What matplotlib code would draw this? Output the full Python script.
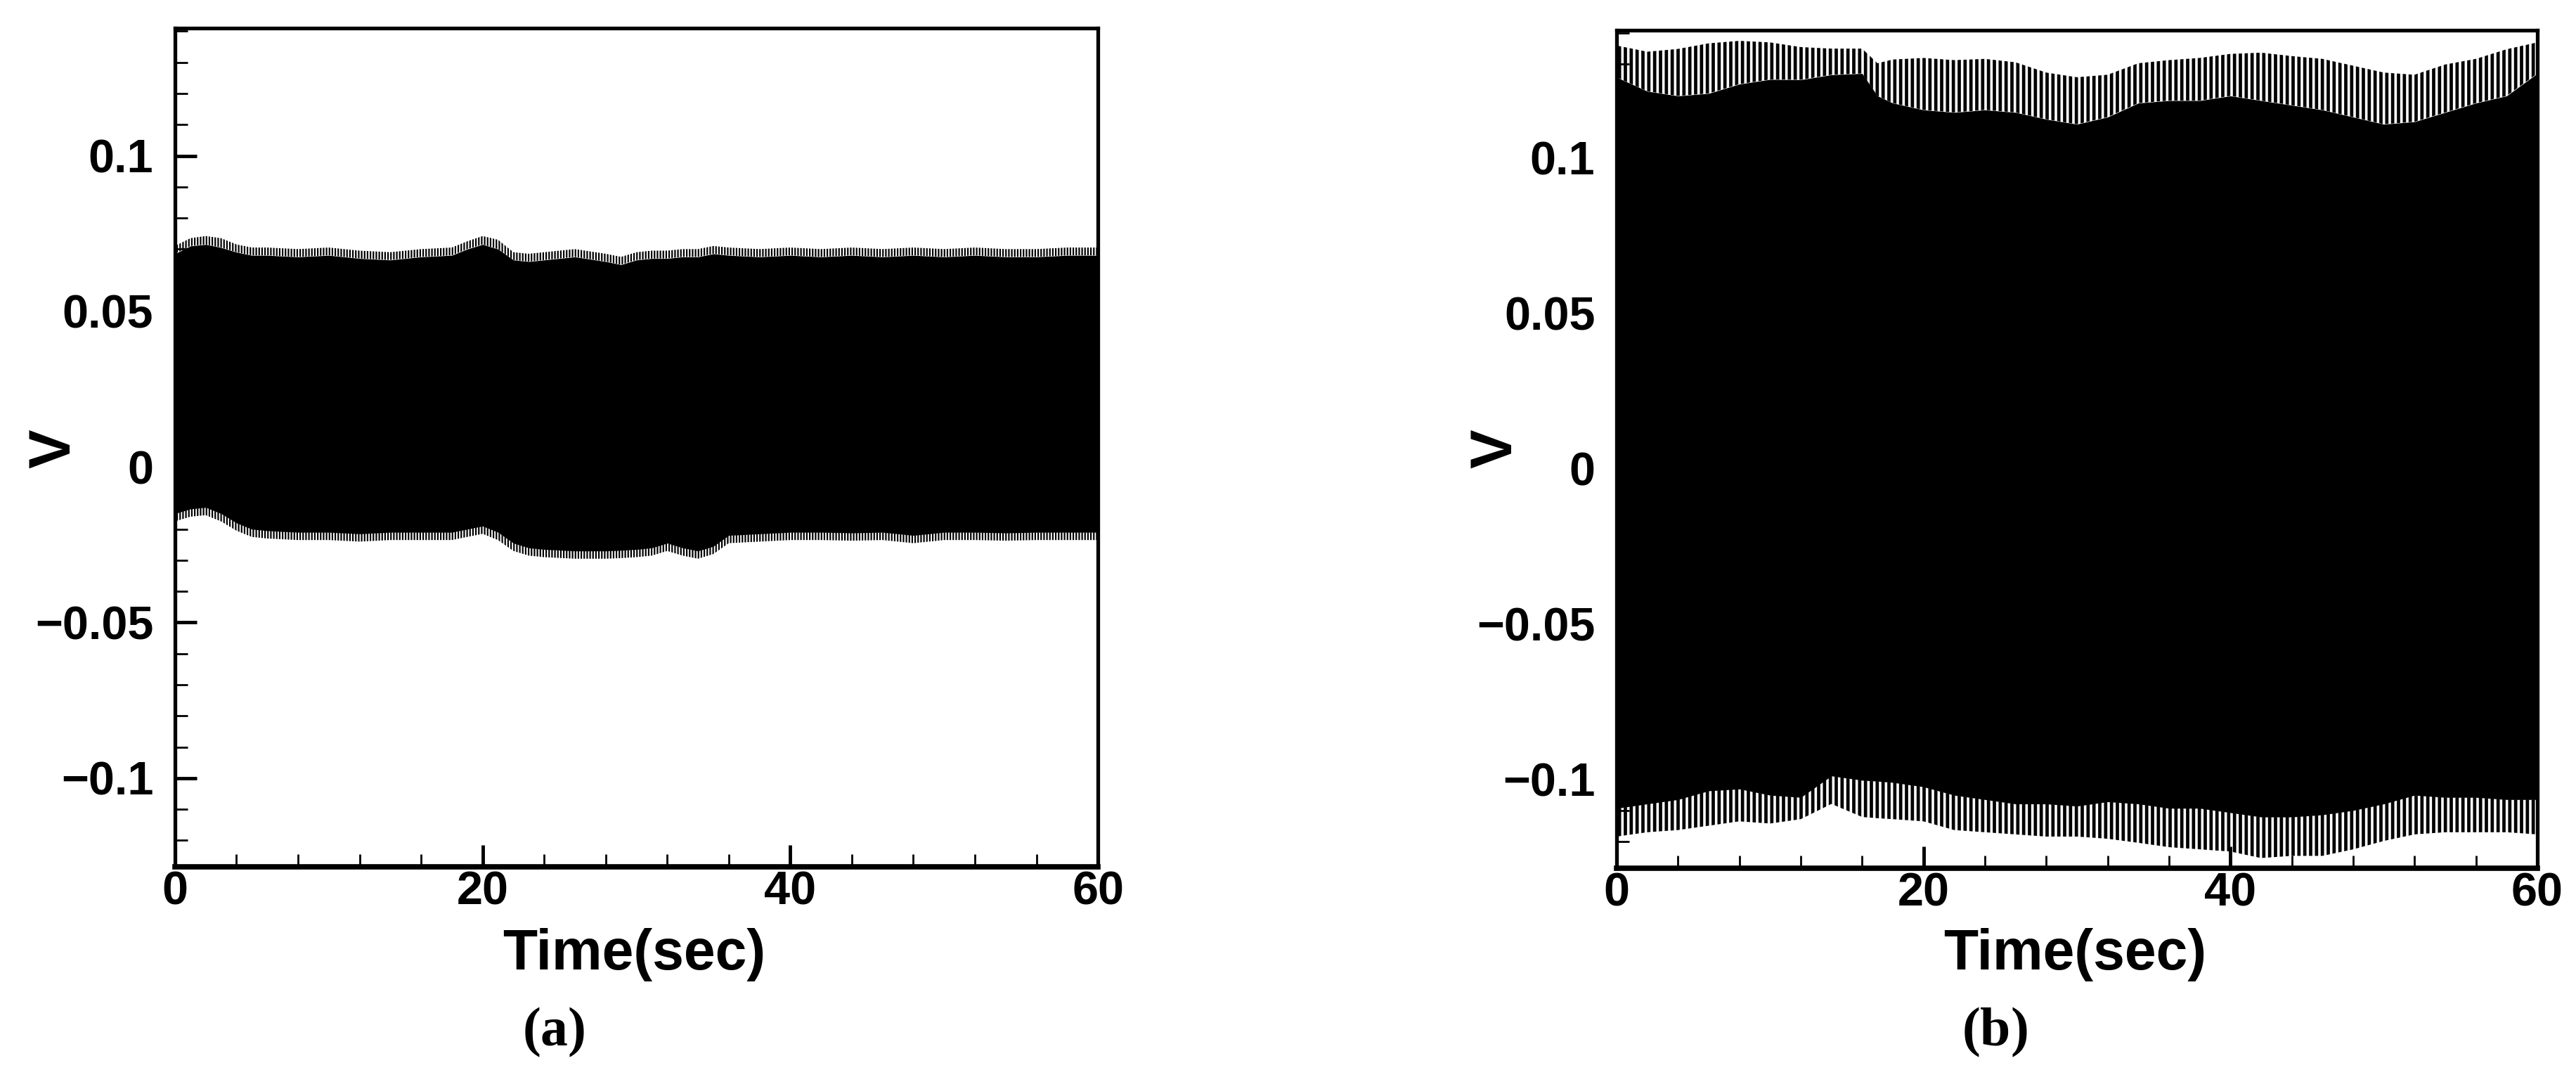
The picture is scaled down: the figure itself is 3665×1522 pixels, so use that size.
import matplotlib
matplotlib.use("Agg")
import matplotlib as mpl
import matplotlib.pyplot as plt
from matplotlib.ticker import MultipleLocator

plt.rcParams.update({
    "font.family": "Liberation Sans",
    "font.weight": "bold",
    "mathtext.fontset": "custom",
    "mathtext.rm": "Liberation Serif",
    "mathtext.bf": "Liberation Serif:bold",
})

# ── data (envelopes of the dense oscillation) ─────────────────────────────────
# (a) envelope: "in" = edge of the solid black body, "out" = tips of the fringe
time_a = [0, 1, 2, 3, 4, 5, 6, 8, 10, 12, 14, 16, 18, 19, 20, 21, 22, 23, 24,
          26, 28, 29, 30, 31, 32, 33, 34, 35, 36, 38, 40, 42, 44, 46, 48, 50,
          52, 54, 56, 58, 60]
upper_out_a = [0.0710, 0.0735, 0.0742, 0.0735, 0.0715, 0.0705, 0.0705, 0.0700,
               0.0705, 0.0695, 0.0690, 0.0700, 0.0705, 0.0725, 0.0742, 0.0730,
               0.0690, 0.0685, 0.0690, 0.0700, 0.0685, 0.0675, 0.0690, 0.0695,
               0.0695, 0.0700, 0.0700, 0.0710, 0.0705, 0.0700, 0.0705, 0.0700,
               0.0705, 0.0700, 0.0705, 0.0700, 0.0705, 0.0700, 0.0700, 0.0705,
               0.0705]
upper_in_a = [0.0685, 0.0710, 0.0715, 0.0705, 0.0690, 0.0680, 0.0680, 0.0675,
              0.0680, 0.0670, 0.0665, 0.0675, 0.0680, 0.0700, 0.0715, 0.0700,
              0.0665, 0.0660, 0.0665, 0.0675, 0.0660, 0.0650, 0.0665, 0.0670,
              0.0670, 0.0675, 0.0675, 0.0685, 0.0680, 0.0675, 0.0680, 0.0675,
              0.0680, 0.0675, 0.0680, 0.0675, 0.0680, 0.0675, 0.0675, 0.0680,
              0.0680]
lower_in_a = [-0.0150, -0.0135, -0.0130, -0.0150, -0.0180, -0.0200, -0.0205,
              -0.0210, -0.0210, -0.0215, -0.0210, -0.0210, -0.0210, -0.0200,
              -0.0190, -0.0210, -0.0245, -0.0260, -0.0265, -0.0270, -0.0270,
              -0.0268, -0.0265, -0.0260, -0.0245, -0.0260, -0.0270, -0.0255,
              -0.0220, -0.0215, -0.0210, -0.0210, -0.0212, -0.0210, -0.0220,
              -0.0210, -0.0210, -0.0212, -0.0210, -0.0210, -0.0210]
lower_out_a = [-0.0175, -0.0160, -0.0155, -0.0175, -0.0205, -0.0225, -0.0230,
               -0.0235, -0.0235, -0.0240, -0.0235, -0.0235, -0.0235, -0.0225,
               -0.0215, -0.0235, -0.0270, -0.0285, -0.0290, -0.0295, -0.0295,
               -0.0293, -0.0290, -0.0285, -0.0270, -0.0285, -0.0295, -0.0280,
               -0.0245, -0.0240, -0.0235, -0.0235, -0.0237, -0.0235, -0.0245,
               -0.0235, -0.0235, -0.0237, -0.0235, -0.0235, -0.0235]

# (b) envelope
time_b = [0, 2, 4, 6, 8, 10, 12, 14, 16, 17, 18, 20, 22, 24, 26, 28, 30, 32,
          34, 36, 38, 40, 42, 44, 46, 48, 50, 52, 54, 56, 58, 60]
upper_out_b = [0.1360, 0.1340, 0.1349, 0.1367, 0.1375, 0.1370, 0.1355, 0.1350,
               0.1350, 0.1303, 0.1315, 0.1320, 0.1313, 0.1317, 0.1306, 0.1273,
               0.1258, 0.1266, 0.1303, 0.1313, 0.1320, 0.1333, 0.1337, 0.1326,
               0.1317, 0.1295, 0.1273, 0.1266, 0.1299, 0.1317, 0.1348, 0.1370]
upper_in_b = [0.1258, 0.1213, 0.1198, 0.1206, 0.1236, 0.1251, 0.1250, 0.1266,
              0.1270, 0.1198, 0.1175, 0.1153, 0.1145, 0.1153, 0.1145, 0.1123,
              0.1107, 0.1130, 0.1175, 0.1183, 0.1183, 0.1198, 0.1183, 0.1168,
              0.1153, 0.1130, 0.1107, 0.1115, 0.1145, 0.1175, 0.1198, 0.1270]
lower_in_b = [-0.1092, -0.1078, -0.1064, -0.1036, -0.1030, -0.1050, -0.1057,
              -0.0988, -0.1002, -0.1005, -0.1009, -0.1023, -0.1050, -0.1064,
              -0.1078, -0.1078, -0.1085, -0.1071, -0.1078, -0.1092, -0.1092,
              -0.1106, -0.1120, -0.1120, -0.1113, -0.1099, -0.1078, -0.1050,
              -0.1057, -0.1057, -0.1064, -0.1064]
lower_out_b = [-0.1183, -0.1169, -0.1162, -0.1148, -0.1134, -0.1141, -0.1127,
               -0.1078, -0.1120, -0.1124, -0.1127, -0.1134, -0.1162, -0.1169,
               -0.1176, -0.1183, -0.1183, -0.1190, -0.1203, -0.1217, -0.1224,
               -0.1231, -0.1252, -0.1245, -0.1245, -0.1224, -0.1197, -0.1176,
               -0.1169, -0.1169, -0.1169, -0.1176]

y_ticks = [-0.1, -0.05, 0, 0.05, 0.1]
y_tick_labels = ["\u22120.1", "\u22120.05", "0", "0.05", "0.1"]
x_ticks = [0, 20, 40, 60]
x_tick_labels = ["0", "20", "40", "60"]


def draw_band(ax, t, up_out, up_in, lo_in, lo_out, hatch, hatch_lw):
    # solid body of the oscillation
    ax.fill_between(t, lo_in, up_in, color="black", lw=0)
    # ragged fringe: vertical hatching between body edge and peak tips
    mpl.rcParams["hatch.linewidth"] = hatch_lw
    for a, b in [(up_in, up_out), (lo_out, lo_in)]:
        pc = ax.fill_between(t, a, b, facecolor="none", edgecolor="black",
                             hatch=hatch, lw=0)
        if hasattr(pc, "set_hatch_linewidth"):
            pc.set_hatch_linewidth(hatch_lw)


def style_axes(ax):
    ax.set_xlim(0, 60)
    ax.set_ylim(-0.1285, 0.141)
    ax.set_xticks(x_ticks)
    ax.set_xticklabels(x_tick_labels)
    ax.set_yticks(y_ticks)
    ax.set_yticklabels(y_tick_labels)
    ax.xaxis.set_minor_locator(MultipleLocator(4))
    ax.yaxis.set_minor_locator(MultipleLocator(0.01))
    ax.tick_params(which="both", direction="in", top=False, right=False,
                   labelsize=48)
    ax.tick_params(which="major", length=22, width=3.5)
    ax.tick_params(which="minor", length=13, width=2.0)
    ax.tick_params(axis="x", which="major", pad=4)
    ax.tick_params(axis="y", which="major", pad=22)
    for lbl in ax.get_xticklabels() + ax.get_yticklabels():
        lbl.set_fontweight("bold")
    for side in ["left", "top", "right"]:
        ax.spines[side].set_linewidth(3.8)
    ax.spines["bottom"].set_linewidth(5.5)


fig = plt.figure(figsize=(36.66, 15.22), dpi=100)
ax_a = fig.add_axes([0.0679, 0.1899, 0.3582, 0.7838])
ax_b = fig.add_axes([0.6274, 0.1885, 0.3573, 0.7835])

draw_band(ax_a, time_a, upper_out_a, upper_in_a, lower_in_a, lower_out_a,
          "||||", 1.6)
draw_band(ax_b, time_b, upper_out_b, upper_in_b, lower_in_b, lower_out_b,
          "||", 3.4)

for ax, tag, vx, tx, px in [(ax_a, "a", 77, 902, 788),
                            (ax_b, "b", 2128, 2952, 2838)]:
    style_axes(ax)
    fig.text(vx / 3666, 1 - 638 / 1522, "V", rotation=90, ha="center",
             va="center", fontsize=60, fontweight="bold")
    fig.text(tx / 3666, 1 - 1358 / 1522, "Time(sec)", ha="center",
             va="center", fontsize=58, fontweight="bold")
    fig.text(px / 3666, 1 - 1468 / 1522, r"$\mathrm{(}\mathbf{%s}\mathrm{)}$" % tag,
             ha="center", va="center", fontsize=56, fontweight="normal")

fig.savefig("out.png", dpi=100)
